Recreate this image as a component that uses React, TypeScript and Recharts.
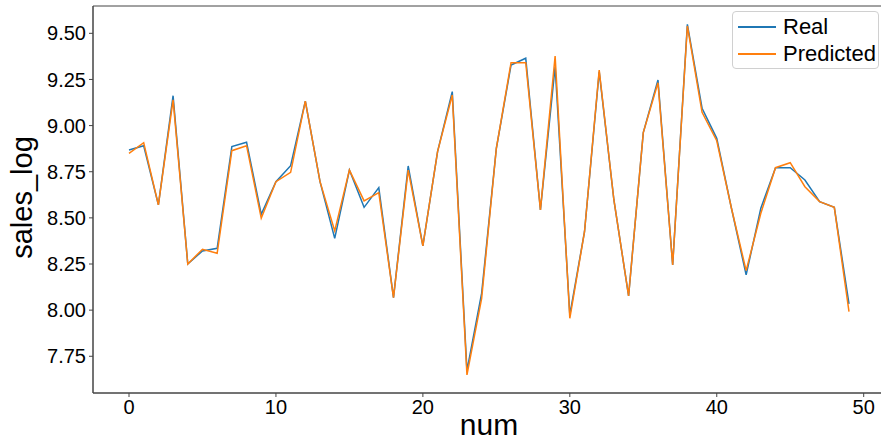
import React from 'react';
import { LineChart, Line, XAxis, YAxis, ReferenceArea, Label } from 'recharts';

const nums: number[] = Array.from({ length: 50 }, (_, i) => i);

const realValues: number[] = [
  8.868, 8.891, 8.570, 9.162, 8.250, 8.321, 8.335, 8.886, 8.910, 8.519,
  8.696, 8.783, 9.133, 8.696, 8.389, 8.759, 8.557, 8.664, 8.068, 8.781,
  8.348, 8.859, 9.184, 7.672, 8.092, 8.877, 9.328, 9.365, 8.543, 9.319,
  7.974, 8.425, 9.292, 8.597, 8.077, 8.962, 9.247, 8.245, 9.549, 9.094,
  8.931, 8.552, 8.191, 8.552, 8.772, 8.772, 8.705, 8.588, 8.557, 8.034,
];

const predictedValues: number[] = [
  8.850, 8.907, 8.570, 9.139, 8.250, 8.330, 8.308, 8.864, 8.891, 8.498,
  8.696, 8.747, 9.133, 8.696, 8.429, 8.759, 8.592, 8.637, 8.068, 8.759,
  8.348, 8.859, 9.166, 7.649, 8.064, 8.877, 9.341, 9.341, 8.543, 9.377,
  7.956, 8.425, 9.301, 8.597, 8.077, 8.962, 9.232, 8.245, 9.540, 9.072,
  8.918, 8.552, 8.214, 8.525, 8.772, 8.799, 8.669, 8.588, 8.557, 7.992,
];

const xTicks: number[] = [0, 10, 20, 30, 40, 50];
const yTicks: number[] = [7.75, 8.0, 8.25, 8.5, 8.75, 9.0, 9.25, 9.5];
const xDomain: [number, number] = [-2.45, 51.45];
const yDomain: [number, number] = [7.551, 9.648];

const series = [
  { key: 'real', name: 'Real', color: '#1f77b4' },
  { key: 'predicted', name: 'Predicted', color: '#ff7f0e' },
];

const data = nums.map((n, i) => ({ num: n, real: realValues[i], predicted: predictedValues[i] }));

const FONT = '"Liberation Sans", Arial, sans-serif';

const YLabel = (props: any) => {
  const vb = props.viewBox || {};
  const cx = vb.x + 22;
  const cy = vb.y + vb.height / 2 - 2;
  return (
    <text
      x={cx}
      y={cy}
      transform={`rotate(-90, ${cx}, ${cy})`}
      textAnchor="middle"
      dominantBaseline="central"
      fontSize={29}
      fontFamily={FONT}
      fill="#000"
    >
      sales_log
    </text>
  );
};

const XLabel = (props: any) => {
  const vb = props.viewBox || {};
  const cx = vb.x + vb.width / 2;
  return (
    <text x={cx} y={435} textAnchor="middle" fontSize={30} fontFamily={FONT} fill="#000">
      num
    </text>
  );
};

export default function App() {
  return (
    <div style={{ position: 'absolute', left: 0, top: 0, width: 881, height: 441, overflow: 'hidden', background: '#fff' }}>
      <LineChart
        width={890}
        height={441}
        data={data}
        margin={{ top: 6, right: 5, bottom: 0, left: 0 }}
      >
        <XAxis
          dataKey="num"
          type="number"
          domain={xDomain}
          ticks={xTicks}
          allowDataOverflow
          height={48}
          tickSize={4}
          tickMargin={3}
          stroke="#444"
          tick={{ fill: '#000', fontSize: 20, fontFamily: FONT }}
          axisLine={{ stroke: '#444' }}
          tickLine={{ stroke: '#444' }}
        >
          <Label content={<XLabel />} />
        </XAxis>
        <YAxis
          type="number"
          domain={yDomain}
          ticks={yTicks}
          allowDataOverflow
          width={93}
          tickSize={4}
          tickMargin={3}
          tickFormatter={(v: number) => v.toFixed(2)}
          tick={{ fill: '#000', fontSize: 20, fontFamily: FONT }}
          axisLine={{ stroke: '#444' }}
          tickLine={{ stroke: '#444' }}
        >
          <Label content={<YLabel />} />
        </YAxis>
        <ReferenceArea
          x1={xDomain[0]}
          x2={xDomain[1]}
          y1={yDomain[0]}
          y2={yDomain[1]}
          fill="none"
          fillOpacity={0}
          stroke="#444"
          strokeWidth={1}
        />
        {series.map((s) => (
          <Line
            key={s.key}
            dataKey={s.key}
            name={s.name}
            stroke={s.color}
            strokeWidth={1.5}
            dot={false}
            activeDot={false}
            isAnimationActive={false}
          />
        ))}
      </LineChart>
      <div
        style={{
          position: 'absolute',
          left: 732,
          top: 11,
          width: 145,
          height: 56,
          border: '1px solid #d0d0d0',
          borderRadius: 4,
          background: 'rgba(255,255,255,0.8)',
          fontFamily: FONT,
          fontSize: 22,
          color: '#000',
        }}
      >
        {series.map((s, i) => (
          <div key={s.key} style={{ position: 'absolute', left: 5, top: 1 + i * 27, height: 27, display: 'flex', alignItems: 'center' }}>
            <div style={{ width: 38, height: 2, background: s.color, marginRight: 7 }} />
            <span style={{ lineHeight: '27px', whiteSpace: 'nowrap' }}>{s.name}</span>
          </div>
        ))}
      </div>
    </div>
  );
}
